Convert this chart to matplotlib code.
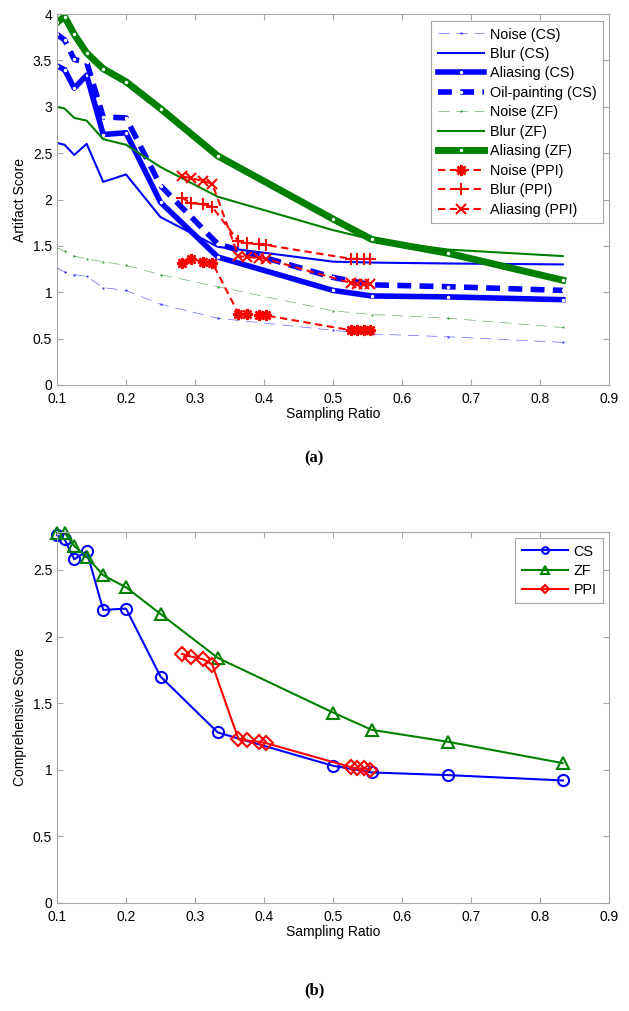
import matplotlib
matplotlib.use('Agg')
import matplotlib.pyplot as plt
from matplotlib.ticker import FuncFormatter

plt.rcParams['font.family'] = ['Liberation Sans', 'DejaVu Sans']

# sampling ratios
ratio = [0.1, 0.111, 0.125, 0.143, 0.167, 0.2, 0.25, 0.333, 0.5, 0.556, 0.667, 0.833]
ratio_ppi = [0.281, 0.294, 0.312, 0.325, 0.363, 0.375, 0.393, 0.403, 0.526, 0.535, 0.545, 0.554]

# (a) artifact scores
noise_cs = [1.26, 1.22, 1.19, 1.17, 1.05, 1.02, 0.87, 0.72, 0.59, 0.55, 0.52, 0.46]
blur_cs = [2.61, 2.59, 2.48, 2.60, 2.19, 2.27, 1.81, 1.49, 1.33, 1.32, 1.31, 1.30]
aliasing_cs = [3.44, 3.40, 3.20, 3.34, 2.70, 2.72, 1.97, 1.38, 1.02, 0.96, 0.95, 0.92]
oil_cs = [3.78, 3.72, 3.51, 3.48, 2.89, 2.88, 2.15, 1.52, 1.16, 1.08, 1.06, 1.02]
noise_zf = [1.48, 1.44, 1.39, 1.36, 1.33, 1.29, 1.19, 1.06, 0.80, 0.76, 0.72, 0.62]
blur_zf = [3.00, 2.98, 2.88, 2.85, 2.65, 2.59, 2.35, 2.03, 1.67, 1.57, 1.46, 1.39]
aliasing_zf = [3.91, 3.97, 3.78, 3.58, 3.41, 3.27, 2.98, 2.47, 1.79, 1.57, 1.42, 1.13]
noise_ppi = [1.32, 1.36, 1.33, 1.32, 0.77, 0.77, 0.76, 0.75, 0.59, 0.59, 0.59, 0.59]
blur_ppi = [2.02, 1.96, 1.95, 1.92, 1.55, 1.53, 1.52, 1.51, 1.36, 1.36, 1.36, 1.36]
aliasing_ppi = [2.25, 2.23, 2.20, 2.17, 1.39, 1.38, 1.37, 1.36, 1.10, 1.09, 1.09, 1.09]

# (b) comprehensive scores
comp_cs = [2.76, 2.73, 2.58, 2.64, 2.20, 2.21, 1.70, 1.28, 1.03, 0.98, 0.96, 0.92]
comp_zf = [2.78, 2.78, 2.68, 2.60, 2.46, 2.37, 2.17, 1.84, 1.43, 1.30, 1.21, 1.05]
comp_ppi = [1.87, 1.85, 1.83, 1.79, 1.23, 1.22, 1.21, 1.20, 1.02, 1.01, 1.01, 1.00]

BLUE = '#0000ff'
GREEN = '#008000'
RED = '#ff0000'
GREY = '#a6a6a6'

W, H = 629, 1011
fig = plt.figure(figsize=(W / 100, H / 100), dpi=100)
ax1 = fig.add_axes([57/W, 1 - 385/H, 552/W, 371/H])
ax2 = fig.add_axes([57/W, 1 - 903/H, 552/W, 371/H])

fmt = FuncFormatter(lambda v, p: '%g' % round(v, 2))


def style(ax):
    for s in ax.spines.values():
        s.set_color(GREY)
        s.set_linewidth(0.8)
    ax.tick_params(direction='in', length=4, color=GREY, labelsize=10,
                   top=True, right=True, width=0.8)
    ax.tick_params(axis='x', pad=5)
    ax.xaxis.set_major_formatter(fmt)
    ax.yaxis.set_major_formatter(fmt)
    ax.set_xlim(0.1, 0.9)
    ax.set_xticks([0.1 * i for i in range(1, 10)])
    ax.set_xlabel('Sampling Ratio', fontsize=10, labelpad=1)


def legend(ax, right, top, **kw):
    leg = ax.legend(loc='upper right', handlelength=3.2, handletextpad=0.4,
                    borderpad=0.45, borderaxespad=0, fancybox=False, framealpha=1,
                    edgecolor=GREY, bbox_to_anchor=(right / W, 1 - top / H),
                    bbox_transform=fig.transFigure, **kw)
    leg.get_frame().set_linewidth(0.8)
    return leg


dot = dict(marker='.', markersize=3, markerfacecolor='white', markeredgecolor='white')

ax1.plot(ratio, noise_cs, color=BLUE, lw=0.5, alpha=0.6, dashes=(16, 10),
         marker='.', ms=1.5, label='Noise (CS)')
ax1.plot(ratio, blur_cs, '-', color=BLUE, lw=1.5, label='Blur (CS)')
ax1.plot(ratio, aliasing_cs, '-', color=BLUE, lw=4, label='Aliasing (CS)', **dot)
ax1.plot(ratio, oil_cs, color=BLUE, lw=4, dashes=(2.5, 1.5), label='Oil-painting (CS)', **dot)
ax1.plot(ratio, noise_zf, color=GREEN, lw=0.5, alpha=0.6, dashes=(16, 10),
         marker='.', ms=1.5, label='Noise (ZF)')
ax1.plot(ratio, blur_zf, '-', color=GREEN, lw=1.5, label='Blur (ZF)')
ax1.plot(ratio, aliasing_zf, '-', color=GREEN, lw=5, label='Aliasing (ZF)', **dot)
ax1.plot(ratio_ppi, noise_ppi, color=RED, lw=1.5, dashes=(3.5, 2.2), marker=(8, 2, 0),
         ms=8, mew=1.8, label='Noise (PPI)')
ax1.plot(ratio_ppi, blur_ppi, color=RED, lw=1.5, dashes=(3.5, 2.2), marker='+',
         ms=9, mew=1.5, label='Blur (PPI)')
ax1.plot(ratio_ppi, aliasing_ppi, color=RED, lw=1.5, dashes=(3.5, 2.2), marker='x',
         ms=7, mew=1.5, label='Aliasing (PPI)')
style(ax1)
ax1.set_ylim(0, 4)
ax1.set_yticks([0.5 * i for i in range(9)])
ax1.set_ylabel('Artifact Score', fontsize=10, labelpad=4)
legend(ax1, 603, 21, fontsize=10.4, labelspacing=0.38)

ax2.plot(ratio, comp_cs, '-', color=BLUE, lw=1.5, marker='o', ms=8, mfc='none', mew=1.5,
         label='CS', clip_on=False)
ax2.plot(ratio, comp_zf, '-', color=GREEN, lw=1.5, marker='^', ms=9, mfc='none', mew=1.5,
         label='ZF', clip_on=False)
ax2.plot(ratio_ppi, comp_ppi, '-', color=RED, lw=1.5, marker='D', ms=7, mfc='none', mew=1.5,
         label='PPI', clip_on=False)
style(ax2)
ax2.set_ylim(0, 2.785)
ax2.set_yticks([0.5 * i for i in range(6)])
ax2.set_ylabel('Comprehensive Score', fontsize=10, labelpad=4)
legend(ax2, 603, 538, fontsize=10.4, labelspacing=0.36, markerscale=0.6)

fig.text(314/W, 1 - 458/H, '(a)', ha='center', va='center', fontsize=12,
         fontweight='bold', family='Liberation Serif')
fig.text(314/W, 1 - 990/H, '(b)', ha='center', va='center', fontsize=12,
         fontweight='bold', family='Liberation Serif')

fig.savefig('out.png', dpi=100)
